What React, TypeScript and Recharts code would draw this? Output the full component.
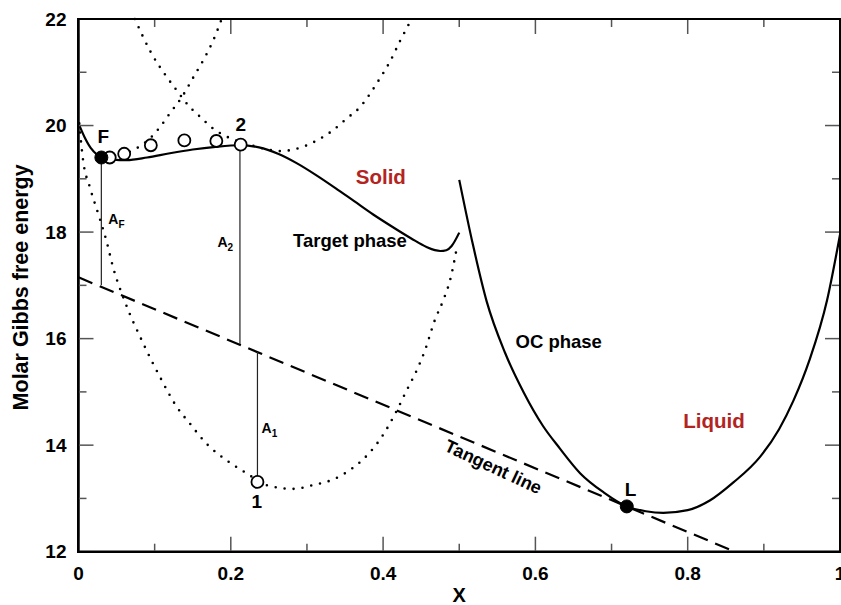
import React from 'react';
import { ComposedChart, Line, Scatter, XAxis, YAxis } from 'recharts';

// ---------- axes ----------
const xMajorTicks = [0, 0.2, 0.4, 0.6, 0.8, 1];
const xMinorTicks = [0.1, 0.3, 0.5, 0.7, 0.9];
const xTickLabels = ['0', '0.2', '0.4', '0.6', '0.8', '1'];
const yMajorTicks = [12, 14, 16, 18, 20, 22];
const yMinorTicks = [13, 15, 17, 19, 21];
const yTickLabels = ['12', '14', '16', '18', '20', '22'];
const xDomain = [0, 1];
const yDomain = [12, 22];

// ---------- curves ----------
const targetX = [0, 0.008, 0.016, 0.024, 0.033, 0.045, 0.063, 0.09, 0.12, 0.15, 0.18, 0.212, 0.237, 0.262, 0.287, 0.312, 0.337, 0.362, 0.387, 0.412, 0.437, 0.457, 0.468, 0.475, 0.483, 0.49, 0.5];
const targetY = [20.04, 19.78, 19.58, 19.46, 19.4, 19.36, 19.35, 19.4, 19.48, 19.55, 19.6, 19.63, 19.59, 19.47, 19.29, 19.07, 18.83, 18.58, 18.33, 18.1, 17.88, 17.72, 17.66, 17.645, 17.66, 17.74, 17.99];

const liquidX = [0.5, 0.518, 0.536, 0.56, 0.585, 0.61, 0.632, 0.659, 0.69, 0.72, 0.745, 0.768, 0.8, 0.829, 0.86, 0.895, 0.92, 0.939, 0.96, 0.983, 1.0];
const liquidY = [18.98, 17.76, 16.7, 15.74, 14.98, 14.36, 13.94, 13.47, 13.11, 12.85, 12.76, 12.73, 12.78, 12.96, 13.3, 13.78, 14.3, 14.84, 15.6, 16.72, 17.95];

const dotCX = [0.001, 0.006, 0.015, 0.028, 0.037, 0.045, 0.061, 0.085, 0.107, 0.129, 0.146, 0.168, 0.195, 0.221, 0.247, 0.282, 0.308, 0.335, 0.359, 0.381, 0.398, 0.418, 0.431, 0.444, 0.455, 0.468, 0.479, 0.488, 0.497];
const dotCY = [20.04, 19.35, 18.84, 18.25, 17.82, 17.36, 16.69, 15.91, 15.28, 14.72, 14.41, 14.03, 13.71, 13.47, 13.25, 13.18, 13.25, 13.36, 13.56, 13.84, 14.15, 14.65, 15.03, 15.4, 15.78, 16.35, 16.72, 17.1, 17.72];

const dotAX = [0.074, 0.096, 0.116, 0.129, 0.146, 0.16, 0.177, 0.195, 0.225, 0.245, 0.265, 0.285, 0.3, 0.313, 0.334, 0.352, 0.37, 0.383, 0.396, 0.409, 0.422, 0.4375];
const dotAY = [22.0, 21.35, 20.91, 20.66, 20.35, 20.16, 19.94, 19.79, 19.64, 19.56, 19.52, 19.56, 19.63, 19.72, 19.91, 20.13, 20.35, 20.6, 20.89, 21.2, 21.58, 22.0];

const dotBX = [0.045, 0.059, 0.076, 0.094, 0.107, 0.12, 0.136, 0.151, 0.164, 0.177, 0.188];
const dotBY = [19.4, 19.46, 19.57, 19.76, 19.97, 20.23, 20.54, 20.91, 21.23, 21.6, 22.0];

const tangentX = [0, 0.862];
const tangentY = [17.15, 12.0];

// vertical driving-force segments
const segAFX = [0.03, 0.03];
const segAFY = [19.4, 17.0];
const segA2X = [0.212, 0.212];
const segA2Y = [19.63, 15.9];
const segA1X = [0.235, 0.235];
const segA1Y = [15.75, 13.31];

// points
const openX = [0.041, 0.06, 0.095, 0.139, 0.181, 0.213, 0.235];
const openY = [19.4, 19.47, 19.63, 19.72, 19.71, 19.64, 13.31];
const filledX = [0.03, 0.72];
const filledY = [19.4, 12.85];

// text annotations
const labelText = ['F', '2', '1', 'L', 'Solid', 'Liquid', 'Target phase', 'OC phase', 'Tangent line', 'A|F', 'A|2', 'A|1'];
const labelKind = ['pt', 'pt', 'pt', 'pt', 'region', 'region', 'phase', 'phase', 'tangent', 'area', 'area', 'area'];
const labelX = [0.0326, 0.213, 0.234, 0.725, 0.397, 0.8345, 0.3565, 0.6306, 0.5447, 0.0457, 0.189, 0.247];
const labelY = [19.8, 20.02, 12.94, 13.16, 19.05, 14.47, 17.85, 15.94, 13.59, 18.25, 17.81, 14.32];

const zip = (xs: number[], ys: number[]) => xs.map((x, i) => ({ x, y: ys[i] }));

// ---------- layout ----------
const CHART_W = 841;
const CHART_H = 605;
const MARGIN = { top: 19, right: 1, bottom: 0, left: 0 };
const X_AXIS_H = 53.3;
const Y_AXIS_W = 78.5;
const PLOT_W = CHART_W - MARGIN.left - MARGIN.right - Y_AXIS_W;
const PLOT_H = CHART_H - MARGIN.top - MARGIN.bottom - X_AXIS_H;

const FONT = '"Liberation Sans", Arial, Helvetica, sans-serif';
const TICK_COLOR = '#555';
const FRAME_W = 2.5;
const RED = '#b3241f';

const xTicks = [...xMajorTicks, ...xMinorTicks].sort((a, b) => a - b);
const yTicks = [...yMajorTicks, ...yMinorTicks].sort((a, b) => a - b);

function XTick(props: any) {
  const { x, y, payload } = props;
  const v = payload.value;
  const mi = xMajorTicks.indexOf(v);
  const len = mi >= 0 ? 15 : 8;
  const top = y - PLOT_H;
  return (
    <g>
      <line x1={x} x2={x} y1={y} y2={y - len} stroke={TICK_COLOR} strokeWidth={1.5} />
      <line x1={x} x2={x} y1={top} y2={top + len} stroke={TICK_COLOR} strokeWidth={1.5} />
      {mi >= 0 && (
        <text x={x} y={y + 22} textAnchor="middle" dominantBaseline="central" fontFamily={FONT} fontWeight="bold" fontSize={19} fill="#000">
          {xTickLabels[mi]}
        </text>
      )}
    </g>
  );
}

function YTick(props: any) {
  const { x, y, payload } = props;
  const v = payload.value;
  const mi = yMajorTicks.indexOf(v);
  const len = mi >= 0 ? 15 : 8;
  const right = x + PLOT_W;
  return (
    <g>
      <line x1={x} x2={x + len} y1={y} y2={y} stroke={TICK_COLOR} strokeWidth={1.5} />
      <line x1={right} x2={right - len} y1={y} y2={y} stroke={TICK_COLOR} strokeWidth={1.5} />
      {mi >= 0 && (
        <text x={x - 12} y={y} textAnchor="end" dominantBaseline="central" fontFamily={FONT} fontWeight="bold" fontSize={19} fill="#000">
          {yTickLabels[mi]}
        </text>
      )}
    </g>
  );
}

function LabelShape(props: any) {
  const { cx, cy, payload } = props;
  const text: string = payload.text;
  const kind: string = payload.kind;
  if (kind === 'area') {
    const [main, sub] = text.split('|');
    return (
      <text x={cx - 5} y={cy} dominantBaseline="central" fontFamily={FONT} fontWeight="bold" fontSize={14} fill="#000">
        {main}
        <tspan fontSize={10} dy={5}>{sub}</tspan>
      </text>
    );
  }
  let size = 19;
  let fill = '#000';
  let transform: string | undefined;
  if (kind === 'region') { size = 20.5; fill = RED; }
  if (kind === 'phase') size = 18.5;
  if (kind === 'tangent') { size = 18; transform = `rotate(25 ${cx} ${cy})`; }
  return (
    <text x={cx} y={cy} textAnchor="middle" dominantBaseline="central" fontFamily={FONT} fontWeight="bold" fontSize={size} fill={fill} transform={transform}>
      {text}
    </text>
  );
}

const OpenCircle = (p: any) => <circle cx={p.cx} cy={p.cy} r={6} fill="#fff" stroke="#000" strokeWidth={1.8} />;
const FilledCircle = (p: any) => <circle cx={p.cx} cy={p.cy} r={6.5} fill="#000" stroke="#000" strokeWidth={1} />;

export default function App() {
  const labels = labelText.map((t, i) => ({ x: labelX[i], y: labelY[i], text: t, kind: labelKind[i] }));
  const solidStyle = { stroke: '#000', strokeWidth: 2.2, dot: false as const, isAnimationActive: false, type: 'monotone' as const };
  const dotStyle = { stroke: '#000', strokeWidth: 2.6, strokeDasharray: '0 9', strokeLinecap: 'round' as const, dot: false as const, isAnimationActive: false, type: 'monotone' as const };
  const segStyle = { stroke: '#222', strokeWidth: 1.2, dot: false as const, isAnimationActive: false, type: 'linear' as const };
  const frame = { stroke: '#000', strokeWidth: FRAME_W };
  return (
    <div style={{ position: 'absolute', left: 0, top: 0, width: CHART_W, height: CHART_H, background: '#fff' }}>
      <ComposedChart width={CHART_W} height={CHART_H} margin={MARGIN}>
        <XAxis type="number" dataKey="x" domain={xDomain} ticks={xTicks} interval={0} height={X_AXIS_H}
          tickSize={0} tickMargin={0} tickLine={false} axisLine={frame}
          tick={(p: any) => <XTick {...p} />}
          label={{
            content: (lp: any) => {
              const vb = lp.viewBox || { x: Y_AXIS_W, y: MARGIN.top + PLOT_H, width: PLOT_W, height: X_AXIS_H };
              return (
                <text x={vb.x + vb.width / 2} y={vb.y + 43} textAnchor="middle" dominantBaseline="central" fontFamily={FONT} fontWeight="bold" fontSize={20} fill="#000">X</text>
              );
            },
          }}
        />
        <YAxis type="number" dataKey="y" domain={yDomain} ticks={yTicks} interval={0} width={Y_AXIS_W}
          tickSize={0} tickMargin={0} tickLine={false} axisLine={frame}
          tick={(p: any) => <YTick {...p} />}
          label={{
            content: (lp: any) => {
              const vb = lp.viewBox || { x: 0, y: MARGIN.top, width: Y_AXIS_W, height: PLOT_H };
              const cx = vb.x + 21;
              const cy = vb.y + vb.height / 2 + 2;
              return (
                <text x={cx} y={cy} textAnchor="middle" dominantBaseline="central" transform={`rotate(-90 ${cx} ${cy})`} fontFamily={FONT} fontWeight="bold" fontSize={21.5} fill="#000">Molar Gibbs free energy</text>
              );
            },
          }}
        />

        <Line data={zip(dotCX, dotCY)} dataKey="y" {...dotStyle} />
        <Line data={zip(dotAX, dotAY)} dataKey="y" {...dotStyle} />
        <Line data={zip(dotBX, dotBY)} dataKey="y" {...dotStyle} />
        <Line data={zip(tangentX, tangentY)} dataKey="y" stroke="#000" strokeWidth={2.2} strokeDasharray="15 8" dot={false} isAnimationActive={false} type="linear" />
        <Line data={zip(segAFX, segAFY)} dataKey="y" {...segStyle} />
        <Line data={zip(segA2X, segA2Y)} dataKey="y" {...segStyle} />
        <Line data={zip(segA1X, segA1Y)} dataKey="y" {...segStyle} />
        <Line data={zip(targetX, targetY)} dataKey="y" {...solidStyle} />
        <Line data={zip(liquidX, liquidY)} dataKey="y" {...solidStyle} />

        <Scatter data={zip(openX, openY)} isAnimationActive={false} shape={OpenCircle} />
        <Scatter data={zip(filledX, filledY)} isAnimationActive={false} shape={FilledCircle} />
        <Scatter data={labels} isAnimationActive={false} shape={(p: any) => <LabelShape {...p} />} />
      </ComposedChart>
      {/* plot frame (border box around the plotting area) */}
      <div
        style={{
          position: 'absolute',
          left: MARGIN.left + Y_AXIS_W - FRAME_W / 2,
          top: MARGIN.top - FRAME_W / 2,
          width: PLOT_W + FRAME_W,
          height: PLOT_H + FRAME_W,
          border: `${FRAME_W}px solid #000`,
          boxSizing: 'border-box',
          pointerEvents: 'none',
        }}
      />
    </div>
  );
}
